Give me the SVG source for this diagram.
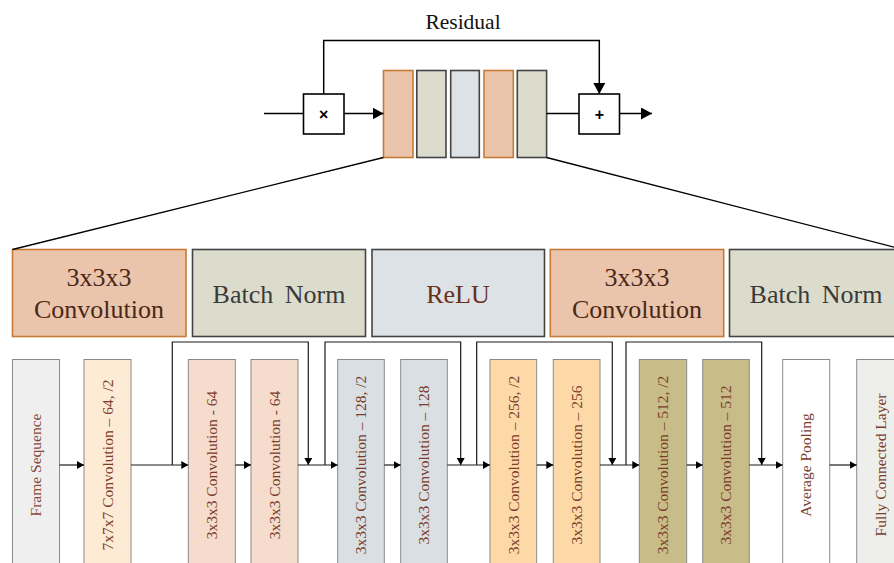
<svg xmlns="http://www.w3.org/2000/svg" width="894" height="563" viewBox="0 0 894 563">
<defs>
<marker id="ah" markerUnits="userSpaceOnUse" markerWidth="12" markerHeight="12" refX="11" refY="6" orient="auto"><path d="M0,0 L11,6 L0,12 z" fill="#000"/></marker>
<marker id="as" markerUnits="userSpaceOnUse" markerWidth="8" markerHeight="8" refX="7" refY="4" orient="auto"><path d="M0,0 L7,4 L0,8 z" fill="#000"/></marker>
</defs>
<style>
text.vt{font-family:"Liberation Serif","Times New Roman",serif;font-size:15.5px;text-anchor:middle;fill:#7a3d2a}
.conv{fill:#ebc5ab;stroke:#c77a35;stroke-width:1.6}
.bn{fill:#dcdccd;stroke:#444;stroke-width:1.6}
.relu{fill:#dde2e6;stroke:#444;stroke-width:1.6}
.op{fill:#fff;stroke:#000;stroke-width:1.6}
.bx{stroke:#8a8a8a;stroke-width:1}
.ln{fill:none;stroke:#000;stroke-width:1.5}
.ls{fill:none;stroke:#1a1a1a;stroke-width:1.2}
text.sym{font-family:"Liberation Sans",Arial,sans-serif;font-size:16px;font-weight:bold;text-anchor:middle}
</style>

<!-- top residual block -->
<text font-family="Liberation Serif, serif" x="463" y="29" font-size="21.5" text-anchor="middle" fill="#111">Residual</text>
<g id="top-mult"><rect class="op" x="303.5" y="94" width="40.5" height="40"/><text class="sym" x="323.7" y="119.5">×</text></g>
<g id="top-add"><rect class="op" x="579" y="94" width="40.5" height="40"/><text class="sym" x="599.3" y="119.5">+</text></g>
<g id="top-b1"><rect class="conv" x="383.5" y="70.5" width="29.5" height="87"/></g>
<g id="top-b2"><rect class="bn" x="416.8" y="70.5" width="29.2" height="87"/></g>
<g id="top-b3"><rect class="relu" x="450.7" y="70.5" width="28.6" height="87"/></g>
<g id="top-b4"><rect class="conv" x="484" y="70.5" width="29.3" height="87"/></g>
<g id="top-b5"><rect class="bn" x="517.3" y="70.5" width="29.3" height="87"/></g>

<!-- expanded row -->
<g font-family="Liberation Serif, serif" font-size="26" text-anchor="middle">
<g id="mid-conv1"><rect class="conv" x="12.5" y="249.5" width="173.5" height="87"/>
<text x="99" y="285.5" fill="#4a2818">3x3x3</text><text x="99" y="318" fill="#4a2818">Convolution</text></g>
<g id="mid-bn1"><rect class="bn" x="192.5" y="249.5" width="173" height="87"/>
<text x="279" y="302.5" fill="#3a3a3a" word-spacing="5">Batch Norm</text></g>
<g id="mid-relu"><rect class="relu" x="372" y="249.5" width="172.5" height="87"/>
<text x="458" y="302.5" fill="#6a3018">ReLU</text></g>
<g id="mid-conv2"><rect class="conv" x="550.3" y="249.5" width="173.4" height="87"/>
<text x="637" y="285.5" fill="#4a2818">3x3x3</text><text x="637" y="318" fill="#4a2818">Convolution</text></g>
<g id="mid-bn2"><rect class="bn" x="729.5" y="249.5" width="174" height="87"/>
<text x="816" y="302.5" fill="#3a3a3a" word-spacing="5">Batch Norm</text></g>
</g>

<!-- bottom row -->
<g id="n-frame"><rect class="bx" x="12.5" y="359.5" width="47" height="220" fill="#efefef"/><text class="vt" transform="translate(41,465) rotate(-90)" style="fill:#8a4a3a">Frame Sequence</text></g>
<g id="n-conv7"><rect class="bx" x="84" y="359.5" width="47" height="220" fill="#fdebd5"/><text class="vt" transform="translate(112.5,465) rotate(-90)">7x7x7 Convolution – 64, /2</text></g>
<g id="n-c64a"><rect class="bx" x="188.3" y="359.5" width="47" height="220" fill="#f5dccd"/><text class="vt" transform="translate(217,465) rotate(-90)">3x3x3 Convolution - 64</text></g>
<g id="n-c64b"><rect class="bx" x="251" y="359.5" width="47" height="220" fill="#f5dccd"/><text class="vt" transform="translate(279.5,465) rotate(-90)">3x3x3 Convolution - 64</text></g>
<g id="n-c128a"><rect class="bx" x="337.7" y="359.5" width="46.6" height="220" fill="#d9dfe3"/><text class="vt" transform="translate(366,465) rotate(-90)">3x3x3 Convolution – 128, /2</text></g>
<g id="n-c128b"><rect class="bx" x="400.7" y="359.5" width="46.6" height="220" fill="#d9dfe3"/><text class="vt" transform="translate(429,465) rotate(-90)">3x3x3 Convolution – 128</text></g>
<g id="n-c256a"><rect class="bx" x="490" y="359.5" width="46.7" height="220" fill="#fdd9a8"/><text class="vt" transform="translate(518.5,465) rotate(-90)">3x3x3 Convolution – 256, /2</text></g>
<g id="n-c256b"><rect class="bx" x="553.3" y="359.5" width="46.7" height="220" fill="#fdd9a8"/><text class="vt" transform="translate(581.8,465) rotate(-90)">3x3x3 Convolution – 256</text></g>
<g id="n-c512a"><rect class="bx" x="639.3" y="359.5" width="47.4" height="220" fill="#c8bc88"/><text class="vt" transform="translate(668,465) rotate(-90)">3x3x3 Convolution – 512, /2</text></g>
<g id="n-c512b"><rect class="bx" x="702.7" y="359.5" width="46.6" height="220" fill="#c8bc88"/><text class="vt" transform="translate(731,465) rotate(-90)">3x3x3 Convolution – 512</text></g>
<g id="n-avg"><rect class="bx" x="782.7" y="359.5" width="47" height="220" fill="#ffffff"/><text class="vt" transform="translate(811,465) rotate(-90)">Average Pooling</text></g>
<g id="n-fc"><rect class="bx" x="856.7" y="359.5" width="47" height="220" fill="#eeeeea"/><text class="vt" transform="translate(885.5,465) rotate(-90)">Fully Connected Layer</text></g>

<g id="connectors">
<!-- top -->
<line class="ln" x1="264" y1="113.5" x2="303.5" y2="113.5"/>
<line class="ln" x1="344" y1="113.5" x2="383.5" y2="113.5" marker-end="url(#ah)"/>
<polyline class="ln" points="323.7,94 323.7,40.5 599.3,40.5 599.3,94" marker-end="url(#ah)"/>
<line class="ln" x1="546.6" y1="113.5" x2="579" y2="113.5"/>
<line class="ln" x1="619.5" y1="113.5" x2="652" y2="113.5" marker-end="url(#ah)"/>
<line x1="383.5" y1="157.5" x2="12.5" y2="249.5" stroke="#000" stroke-width="1.3"/>
<line x1="546.6" y1="157.5" x2="903" y2="249.5" stroke="#000" stroke-width="1.3"/>
<!-- bottom -->
<line class="ls" x1="59.5" y1="465" x2="84" y2="465" marker-end="url(#as)"/>
<line class="ls" x1="131" y1="465" x2="188.3" y2="465" marker-end="url(#as)"/>
<line class="ls" x1="235.3" y1="465" x2="251" y2="465" marker-end="url(#as)"/>
<line class="ls" x1="298" y1="465" x2="337.7" y2="465" marker-end="url(#as)"/>
<line class="ls" x1="384.3" y1="465" x2="400.7" y2="465" marker-end="url(#as)"/>
<line class="ls" x1="447.3" y1="465" x2="490" y2="465" marker-end="url(#as)"/>
<line class="ls" x1="536.7" y1="465" x2="553.3" y2="465" marker-end="url(#as)"/>
<line class="ls" x1="600" y1="465" x2="639.3" y2="465" marker-end="url(#as)"/>
<line class="ls" x1="686.7" y1="465" x2="702.7" y2="465" marker-end="url(#as)"/>
<line class="ls" x1="749.3" y1="465" x2="782.7" y2="465" marker-end="url(#as)"/>
<line class="ls" x1="829.7" y1="465" x2="856.7" y2="465" marker-end="url(#as)"/>
<polyline class="ls" points="172.3,465 172.3,342 308.3,342 308.3,465" marker-end="url(#as)"/>
<polyline class="ls" points="325,465 325,342 460.7,342 460.7,465" marker-end="url(#as)"/>
<polyline class="ls" points="476.7,465 476.7,342 612.3,342 612.3,465" marker-end="url(#as)"/>
<polyline class="ls" points="626,465 626,342 761.7,342 761.7,465" marker-end="url(#as)"/>
</g>
</svg>
